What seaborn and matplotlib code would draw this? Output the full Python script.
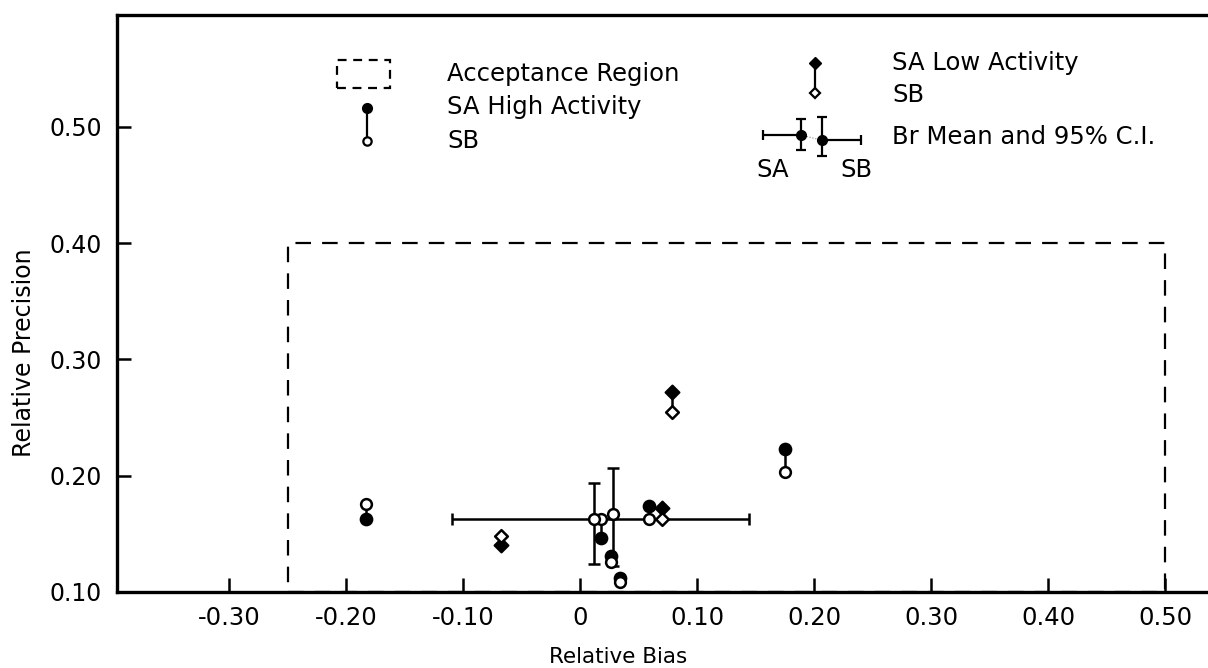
import numpy as np
import pandas as pd
import seaborn as sns
from matplotlib import pyplot as plt
from matplotlib.patches import Rectangle

# relative bias / precision
hi_bias = [-0.183, 0.018, 0.026, 0.034, 0.059, 0.175]
hi_sa = [0.163, 0.146, 0.131, 0.112, 0.174, 0.223]
hi_sb = [0.176, 0.163, 0.126, 0.109, 0.163, 0.203]

lo_bias = [-0.068, 0.070, 0.078]
lo_sa = [0.140, 0.172, 0.272]
lo_sb = [0.148, 0.163, 0.255]

# Br mean and 95% C.I. (SA, SB)
br_bias = [0.012, 0.028]
br_prec = [0.163, 0.167]
br_prec_lo = [0.124, 0.122]
br_prec_hi = [0.194, 0.207]
br_bias_lo = [-0.110]
br_bias_hi = [0.144]

# acceptance region
acc_bias = [-0.25, 0.50]
acc_prec = [0.10, 0.40]

x_ticks = [-0.30, -0.20, -0.10, 0, 0.10, 0.20, 0.30, 0.40, 0.50]
x_labels = ["-0.30", "-0.20", "-0.10", "0", "0.10", "0.20", "0.30", "0.40", "0.50"]
y_ticks = [0.10, 0.20, 0.30, 0.40, 0.50]
y_labels = ["0.10", "0.20", "0.30", "0.40", "0.50"]

sns.set_style("white")
plt.rcParams['font.family'] = ['DejaVu Sans']
plt.rcParams['text.color'] = "black"
plt.rcParams['axes.labelcolor'] = "black"
plt.rcParams['xtick.color'] = "black"
plt.rcParams['ytick.color'] = "black"

df_hi = pd.DataFrame({"bias": hi_bias, "sa": hi_sa, "sb": hi_sb})
df_lo = pd.DataFrame({"bias": lo_bias, "sa": lo_sa, "sb": lo_sb})

fig = plt.figure(figsize=(12.08, 6.68), dpi=100)
ax = fig.add_axes([0.0969, 0.1138, 0.9015, 0.8637])

# acceptance region
ax.add_patch(Rectangle((acc_bias[0], acc_prec[0]), acc_bias[1] - acc_bias[0], acc_prec[1] - acc_prec[0],
                       fill=False, ls=(0, (7, 5)), lw=1.6, ec="black", zorder=1))

# Br means with C.I.
ax.errorbar(br_bias[:1], br_prec[:1],
            xerr=[[br_bias[0] - br_bias_lo[0]], [br_bias_hi[0] - br_bias[0]]],
            yerr=[[br_prec[0] - br_prec_lo[0]], [br_prec_hi[0] - br_prec[0]]],
            fmt="none", ecolor="black", elinewidth=1.8, capsize=4, capthick=1.8, zorder=2)
ax.errorbar(br_bias[1:], br_prec[1:],
            yerr=[[br_prec[1] - br_prec_lo[1]], [br_prec_hi[1] - br_prec[1]]],
            fmt="none", ecolor="black", elinewidth=1.8, capsize=4, capthick=1.8, zorder=2)

# connecting lines of SA/SB pairs
ax.vlines(df_hi["bias"], df_hi["sa"], df_hi["sb"], color="black", lw=1.8, zorder=2)
ax.vlines(df_lo["bias"], df_lo["sa"], df_lo["sb"], color="black", lw=1.8, zorder=2)

sns.scatterplot(data=df_hi, x="bias", y="sa", marker="o", s=70, color="black",
                edgecolor="black", linewidth=1.5, ax=ax, zorder=3)
sns.scatterplot(data=df_hi, x="bias", y="sb", marker="o", s=60, color="white",
                edgecolor="black", linewidth=1.8, ax=ax, zorder=3)
sns.scatterplot(data=df_lo, x="bias", y="sa", marker="D", s=50, color="black",
                edgecolor="black", linewidth=1.5, ax=ax, zorder=3)
sns.scatterplot(data=df_lo, x="bias", y="sb", marker="D", s=42, color="white",
                edgecolor="black", linewidth=1.8, ax=ax, zorder=3)
sns.scatterplot(x=br_bias, y=br_prec, marker="o", s=60, color="white",
                edgecolor="black", linewidth=1.8, ax=ax, zorder=4)

ax.set_xlim(-0.396, 0.535)
ax.set_ylim(0.10, 0.596)
ax.set_xticks(x_ticks, x_labels)
ax.set_yticks(y_ticks, y_labels)
ax.tick_params(axis="both", direction="in", length=10, width=1.8,
               bottom=True, left=True, color="black", labelcolor="black")
ax.tick_params(axis="x", pad=10, labelsize=17.5)
ax.tick_params(axis="y", pad=11, labelsize=17)
ax.set_xlabel("Relative Bias", fontsize=15.5)
ax.set_ylabel("Relative Precision", fontsize=17)
ax.xaxis.set_label_coords(0.46, -0.095)
ax.yaxis.set_label_coords(-0.074, 0.414)
for side in ["left", "bottom", "top"]:
    ax.spines[side].set_linewidth(2.4)
    ax.spines[side].set_color("black")
ax.spines["right"].set_visible(False)

# hand-drawn legend block
tr = ax.transAxes
fs = 17.5
ax.add_patch(Rectangle((0.202, 0.873), 0.049, 0.049, transform=tr, fill=False,
                       ls=(0, (4, 3)), lw=1.6, ec="black"))
ax.text(0.303, 0.898, "Acceptance Region", transform=tr, fontsize=fs, va="center")

ax.plot([0.2296, 0.2296], [0.839, 0.782], transform=tr, color="black", lw=1.6)
ax.plot([0.2296], [0.839], transform=tr, marker="o", ms=7, mfc="black", mec="black")
ax.plot([0.2296], [0.782], transform=tr, marker="o", ms=6, mfc="white", mec="black", mew=1.6)
ax.text(0.303, 0.841, "SA High Activity", transform=tr, fontsize=fs, va="center")
ax.text(0.303, 0.782, "SB", transform=tr, fontsize=fs, va="center")

ax.plot([0.641, 0.641], [0.917, 0.865], transform=tr, color="black", lw=1.6)
ax.plot([0.641], [0.917], transform=tr, marker="D", ms=6, mfc="black", mec="black")
ax.plot([0.641], [0.865], transform=tr, marker="D", ms=5.5, mfc="white", mec="black", mew=1.6)
ax.text(0.712, 0.917, "SA Low Activity", transform=tr, fontsize=fs, va="center")
ax.text(0.712, 0.862, "SB", transform=tr, fontsize=fs, va="center")

ax.errorbar([0.628], [0.792], xerr=[[0.035], [0]], yerr=[[0.026], [0.027]], transform=tr,
            fmt="o", ms=7, mfc="black", mec="black", ecolor="black", elinewidth=1.6, capsize=3.5, capthick=1.6)
ax.errorbar([0.647], [0.783], xerr=[[0], [0.036]], yerr=[[0.027], [0.041]], transform=tr,
            fmt="o", ms=7, mfc="black", mec="black", ecolor="black", elinewidth=1.6, capsize=3.5, capthick=1.6)
ax.plot([0.628, 0.647], [0.792, 0.783], transform=tr, color="gray", lw=0.8, ls=":")
ax.text(0.602, 0.731, "SA", transform=tr, fontsize=fs, va="center", ha="center")
ax.text(0.679, 0.731, "SB", transform=tr, fontsize=fs, va="center", ha="center")
ax.text(0.712, 0.789, "Br Mean and 95% C.I.", transform=tr, fontsize=fs, va="center")

plt.savefig("out.png", dpi=100)
